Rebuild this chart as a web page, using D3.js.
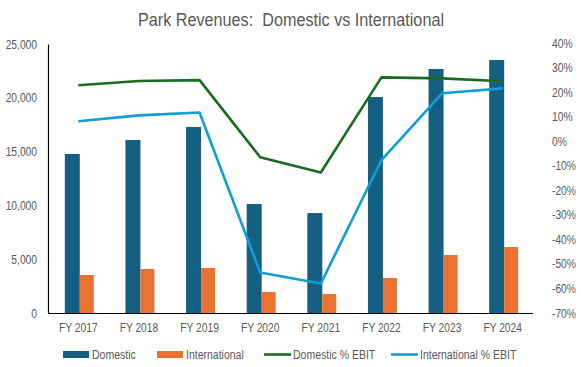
<!DOCTYPE html>
<html><head><meta charset="utf-8">
<script src="https://cdn.jsdelivr.net/npm/d3@7"></script>
<style>body{margin:0;background:#fff}text{font-family:"Liberation Sans",Arial,sans-serif}</style>
</head><body><svg id="c" width="581" height="367"></svg>
<script>
const categories=["FY 2017","FY 2018","FY 2019","FY 2020","FY 2021","FY 2022","FY 2023","FY 2024"];
const domestic=[14780,16080,17290,10130,9290,20070,22680,23510];
const international=[3530,4090,4180,1950,1770,3250,5390,6130];
const domesticEbit=[22.9,24.6,25.0,-6.5,-12.7,26.1,25.7,24.5];
const internationalEbit=[8.2,10.6,11.8,-53.5,-58.0,-7.6,19.6,21.6];
const leftTicks=[0,5000,10000,15000,20000,25000];
const rightTicks=[40,30,20,10,0,-10,-20,-30,-40,-50,-60,-70];
const colors={dom:"#156082",intl:"#E97132",domL:"#196B24",intlL:"#0F9ED5"};

const svg=d3.select("#c");
const L=48,R=533,T=44,B=313;
const x=d3.scaleBand().domain(categories).range([L,R]);
const yL=d3.scaleLinear().domain([0,25000]).range([B,T]);
const yR=d3.scaleLinear().domain([-70,40]).range([B,43.3]);
const bw=15;
const FS=12.5, NR=0.82, GREY="#595959";
function narrow(sel,r){sel.each(function(){const w=this.getComputedTextLength();d3.select(this).attr("textLength",w*r).attr("lengthAdjust","spacingAndGlyphs");});}

const title=svg.append("text").attr("x",291).attr("y",26).attr("text-anchor","middle")
  .attr("font-size",17.5).attr("fill",GREY).style("white-space","pre")
  .text("Park Revenues:  Domestic vs International");
title.attr("textLength",306).attr("lengthAdjust","spacingAndGlyphs");

const ax=svg.append("g").attr("transform",`translate(${L},0)`).call(d3.axisLeft(yL).tickValues(leftTicks).tickFormat(d3.format(",")).tickSize(0).tickPadding(11));
ax.select(".domain").attr("stroke","#000").attr("stroke-width",1.2);
ax.selectAll("text").attr("font-size",FS).attr("fill",GREY).style("font-family","'Liberation Sans',Arial,sans-serif").call(narrow,NR);

const ar=svg.append("g").attr("transform",`translate(${552},0)`).call(d3.axisRight(yR).tickValues(rightTicks).tickFormat(d=>d+"%").tickSize(0).tickPadding(0));
ar.select(".domain").remove();
ar.selectAll("text").attr("font-size",FS).attr("fill",GREY).style("font-family","'Liberation Sans',Arial,sans-serif").call(narrow,NR);

svg.append("g").selectAll("rect").data(categories).join("rect")
  .attr("x",(d)=>x(d)+x.bandwidth()/2-bw+1.5).attr("width",bw)
  .attr("y",(d,i)=>yL(domestic[i])).attr("height",(d,i)=>B-yL(domestic[i])).attr("fill",colors.dom);
svg.append("g").selectAll("rect").data(categories).join("rect")
  .attr("x",(d)=>x(d)+x.bandwidth()/2+1.5).attr("width",bw-1)
  .attr("y",(d,i)=>yL(international[i])).attr("height",(d,i)=>B-yL(international[i])).attr("fill",colors.intl);

const xa=svg.append("g").attr("transform",`translate(0,${B})`).call(d3.axisBottom(x).tickSize(0).tickPadding(10));
xa.select(".domain").attr("stroke","#000").attr("stroke-width",1.2).attr("d",`M${L},0.5H${R}`);
xa.selectAll("text").attr("font-size",FS).attr("fill",GREY).attr("y",19).attr("dy",0).style("font-family","'Liberation Sans',Arial,sans-serif").call(narrow,NR);

const line=arr=>d3.line().x((d,i)=>x(categories[i])+x.bandwidth()/2).y(d=>yR(d))(arr);
svg.append("path").attr("d",line(domesticEbit)).attr("fill","none").attr("stroke",colors.domL).attr("stroke-width",2.6).attr("stroke-linejoin","round");
svg.append("path").attr("d",line(internationalEbit)).attr("fill","none").attr("stroke",colors.intlL).attr("stroke-width",2.6).attr("stroke-linejoin","round");

const leg=[{t:"Domestic",c:colors.dom,k:"r",x:63},{t:"International",c:colors.intl,k:"r",x:157},{t:"Domestic % EBIT",c:colors.domL,k:"l",x:264},{t:"International % EBIT",c:colors.intlL,k:"l",x:391}];
const lg=svg.append("g");
leg.forEach(o=>{
  if(o.k==="r") lg.append("rect").attr("x",o.x).attr("y",351).attr("width",26).attr("height",7).attr("fill",o.c);
  else lg.append("line").attr("x1",o.x).attr("x2",o.x+27).attr("y1",354.5).attr("y2",354.5).attr("stroke",o.c).attr("stroke-width",2.6);
  lg.append("text").attr("x",o.x+29).attr("y",359).attr("font-size",FS).attr("fill",GREY).text(o.t).call(narrow,0.84);
});
</script></body></html>
